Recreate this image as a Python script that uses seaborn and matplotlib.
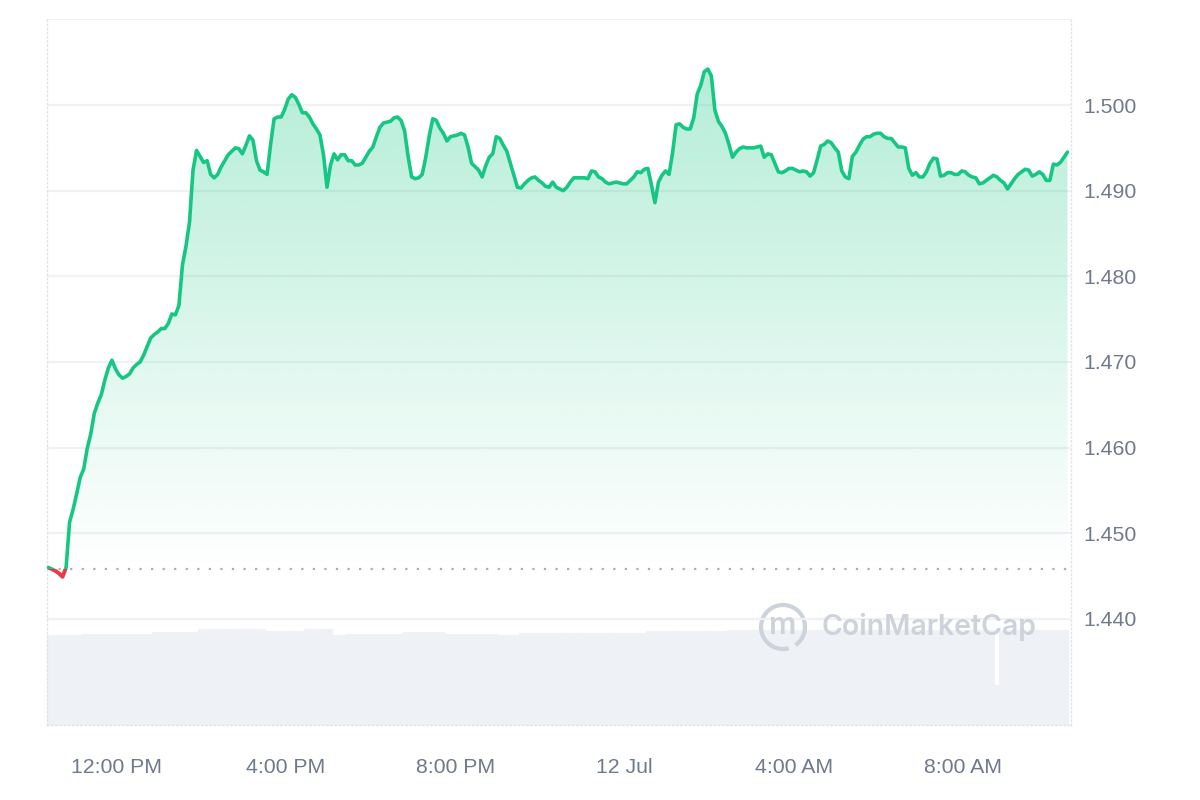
import numpy as np
import pandas as pd
import seaborn as sns
import matplotlib.pyplot as plt
import matplotlib.dates as mdates
from matplotlib.patches import Rectangle, Arc

# -------------------------------
# Data (5-minute candles, 11 Jul 10:23 -> 12 Jul 10:28)
# -------------------------------
start_time = "2024-07-11 10:23"
open_price = 1.4458

price = [
    1.4460, 1.4458, 1.4456, 1.4453, 1.4449, 1.4460, 1.4513, 1.4528, 1.4546, 1.4565,
    1.4575, 1.4599, 1.4616, 1.4640, 1.4652, 1.4662, 1.4679, 1.4693, 1.4702, 1.4692,
    1.4685, 1.4681, 1.4683, 1.4686, 1.4693, 1.4697, 1.4700, 1.4708, 1.4718, 1.4728,
    1.4732, 1.4735, 1.4739, 1.4739, 1.4745, 1.4756, 1.4755, 1.4766, 1.4813, 1.4835,
    1.4863, 1.4924, 1.4947, 1.4940, 1.4933, 1.4935, 1.4919, 1.4915, 1.4919, 1.4928,
    1.4935, 1.4942, 1.4946, 1.4950, 1.4949, 1.4943, 1.4953, 1.4964, 1.4959, 1.4935,
    1.4924, 1.4922, 1.4919, 1.4954, 1.4984, 1.4986, 1.4986, 1.4995, 1.5007, 1.5012,
    1.5009, 1.5001, 1.4991, 1.4991, 1.4986, 1.4978, 1.4972, 1.4965, 1.4942, 1.4904,
    1.4930, 1.4943, 1.4936, 1.4942, 1.4942, 1.4935, 1.4935, 1.4930, 1.4930, 1.4932,
    1.4939, 1.4946, 1.4951, 1.4963, 1.4974, 1.4979, 1.4980, 1.4981, 1.4985, 1.4986,
    1.4982, 1.4970, 1.4940, 1.4916, 1.4914, 1.4915, 1.4919, 1.4939, 1.4964, 1.4984,
    1.4982, 1.4973, 1.4967, 1.4958, 1.4963, 1.4964, 1.4965, 1.4967, 1.4965, 1.4951,
    1.4932, 1.4928, 1.4924, 1.4916, 1.4929, 1.4939, 1.4943, 1.4963, 1.4961, 1.4953,
    1.4946, 1.4932, 1.4918, 1.4904, 1.4903, 1.4908, 1.4912, 1.4915, 1.4916, 1.4912,
    1.4909, 1.4905, 1.4904, 1.4910, 1.4904, 1.4902, 1.4900, 1.4904, 1.4910, 1.4915,
    1.4915, 1.4915, 1.4915, 1.4914, 1.4923, 1.4922, 1.4916, 1.4914, 1.4910, 1.4908,
    1.4909, 1.4910, 1.4909, 1.4908, 1.4908, 1.4912, 1.4916, 1.4922, 1.4921, 1.4925,
    1.4926, 1.4907, 1.4886, 1.4910, 1.4918, 1.4923, 1.4919, 1.4944, 1.4977, 1.4978,
    1.4974, 1.4972, 1.4972, 1.4985, 1.5013, 1.5023, 1.5039, 1.5042, 1.5034, 1.4994,
    1.4981, 1.4975, 1.4967, 1.4954, 1.4939, 1.4945, 1.4949, 1.4951, 1.4950, 1.4950,
    1.4950, 1.4951, 1.4952, 1.4939, 1.4943, 1.4942, 1.4932, 1.4922, 1.4921, 1.4923,
    1.4926, 1.4926, 1.4924, 1.4922, 1.4923, 1.4922, 1.4917, 1.4921, 1.4936, 1.4952,
    1.4954, 1.4958, 1.4956, 1.4950, 1.4945, 1.4923, 1.4916, 1.4914, 1.4940, 1.4945,
    1.4953, 1.4960, 1.4963, 1.4963, 1.4966, 1.4967, 1.4967, 1.4963, 1.4961, 1.4961,
    1.4956, 1.4951, 1.4951, 1.4950, 1.4926, 1.4918, 1.4921, 1.4916, 1.4916, 1.4922,
    1.4932, 1.4938, 1.4937, 1.4917, 1.4918, 1.4921, 1.4921, 1.4919, 1.4919, 1.4923,
    1.4922, 1.4918, 1.4916, 1.4915, 1.4908, 1.4909, 1.4912, 1.4915, 1.4918, 1.4916,
    1.4912, 1.4909, 1.4902, 1.4908, 1.4914, 1.4919, 1.4922, 1.4925, 1.4924, 1.4917,
    1.4919, 1.4922, 1.4919, 1.4912, 1.4912, 1.4931, 1.4930, 1.4933, 1.4939, 1.4945,
]

# volume in millions (no scale shown on the chart)
volume = [
    9.05, 9.05, 9.05, 9.05, 9.05, 9.05, 9.05, 9.05, 9.05, 9.05,
    9.15, 9.15, 9.15, 9.15, 9.15, 9.15, 9.15, 9.15, 9.15, 9.15,
    9.15, 9.15, 9.15, 9.15, 9.15, 9.15, 9.15, 9.15, 9.15, 9.15,
    9.3, 9.3, 9.3, 9.3, 9.3, 9.3, 9.3, 9.3, 9.3, 9.3,
    9.3, 9.3, 9.3, 9.6, 9.6, 9.6, 9.6, 9.6, 9.6, 9.6,
    9.6, 9.6, 9.6, 9.6, 9.6, 9.6, 9.6, 9.6, 9.6, 9.6,
    9.6, 9.6, 9.4, 9.4, 9.4, 9.4, 9.4, 9.4, 9.4, 9.4,
    9.4, 9.4, 9.4, 9.6, 9.6, 9.6, 9.6, 9.6, 9.6, 9.6,
    9.6, 9.05, 9.05, 9.05, 9.05, 9.15, 9.15, 9.15, 9.15, 9.15,
    9.15, 9.15, 9.15, 9.15, 9.15, 9.15, 9.15, 9.15, 9.15, 9.15,
    9.15, 9.3, 9.3, 9.3, 9.3, 9.3, 9.3, 9.3, 9.3, 9.3,
    9.3, 9.3, 9.3, 9.15, 9.15, 9.15, 9.15, 9.15, 9.15, 9.15,
    9.15, 9.15, 9.15, 9.15, 9.15, 9.15, 9.15, 9.15, 9.0, 9.0,
    9.0, 9.0, 9.0, 9.0, 9.2, 9.2, 9.2, 9.2, 9.2, 9.2,
    9.2, 9.2, 9.2, 9.2, 9.2, 9.2, 9.2, 9.2, 9.2, 9.2,
    9.2, 9.2, 9.2, 9.2, 9.2, 9.2, 9.2, 9.2, 9.2, 9.2,
    9.2, 9.2, 9.2, 9.2, 9.2, 9.2, 9.2, 9.2, 9.2, 9.2,
    9.4, 9.4, 9.4, 9.4, 9.4, 9.4, 9.4, 9.4, 9.4, 9.4,
    9.4, 9.4, 9.4, 9.4, 9.4, 9.4, 9.4, 9.4, 9.4, 9.4,
    9.4, 9.4, 9.4, 9.55, 9.55, 9.55, 9.55, 9.55, 9.55, 9.55,
    9.55, 9.55, 9.55, 9.55, 9.55, 9.55, 9.55, 9.55, 9.55, 9.55,
    9.55, 9.55, 9.55, 9.55, 9.55, 9.55, 9.55, 9.55, 9.55, 9.55,
    9.55, 9.55, 9.55, 9.55, 9.55, 9.55, 9.55, 9.55, 9.55, 9.55,
    9.55, 9.55, 9.55, 9.55, 9.55, 9.55, 9.55, 9.55, 9.55, 9.55,
    9.55, 9.55, 9.55, 9.55, 9.55, 9.55, 9.55, 9.55, 9.55, 9.55,
    9.55, 9.55, 9.55, 9.55, 9.55, 9.55, 9.55, 9.55, 9.55, 9.55,
    9.55, 9.55, 9.55, 9.55, 9.55, 9.55, 9.55, 9.55, 9.55, 4.0,
    9.55, 9.55, 9.55, 9.55, 9.55, 9.55, 9.55, 9.55, 9.55, 9.55,
    9.55, 9.55, 9.55, 9.55, 9.55, 9.55, 9.55, 9.55, 9.55, 9.55,
]

y_ticks = [1.440, 1.450, 1.460, 1.470, 1.480, 1.490, 1.500, 1.510]
x_ticks = ["2024-07-11 12:00", "2024-07-11 16:00", "2024-07-11 20:00",
           "2024-07-12 00:00", "2024-07-12 04:00", "2024-07-12 08:00"]
x_labels = ["12:00 PM", "4:00 PM", "8:00 PM", "12 Jul", "4:00 AM", "8:00 AM"]

df = pd.DataFrame({
    "time": pd.date_range(start_time, periods=len(price), freq="5min"),
    "price": price,
    "volume": volume,
})

# -------------------------------
# Style
# -------------------------------
GREEN = "#16c784"
RED = "#ea3943"
GRID = "#eff2f5"
LABEL = "#6f7a8d"

sns.set_style("white")
plt.rcParams["font.family"] = ["Liberation Sans", "DejaVu Sans"]

fig = plt.figure(figsize=(12, 8), dpi=100)
ax = fig.add_axes([0.0392, 0.09375, 0.8533, 0.8820])
ax_vol = ax.twinx()
ax.set_zorder(ax_vol.get_zorder() + 1)
ax.patch.set_visible(False)

t0 = mdates.date2num(df["time"].iloc[0])
x_min = t0 - 2 / 1440
x_max = t0 + 1450 / 1440
y_min, y_max = 1.4276, 1.510

# -------------------------------
# Volume bars
# -------------------------------
ax_vol.bar(df["time"], df["volume"], width=5.6 / 1440, color="#eef1f5",
           edgecolor="#f7f8fa", linewidth=0.2, align="center")
ax_vol.set_ylim(0, 70.6)
ax_vol.set_yticks([])
for s in ax_vol.spines.values():
    s.set_visible(False)

# -------------------------------
# Gradient fill under the price line
# -------------------------------
fill = ax.fill_between(df["time"], df["price"], open_price, color="none", lw=0)
rgba = np.zeros((256, 1, 4))
rgba[..., :3] = np.array([22, 199, 132]) / 255
rgba[:, 0, 3] = np.linspace(0.0, 0.32, 256)
grad = ax.imshow(rgba, extent=[x_min, x_max, open_price, max(price)],
                 origin="lower", aspect="auto", zorder=1, interpolation="bilinear")
grad.set_clip_path(fill.get_paths()[0], transform=ax.transData)

# baseline (open price)
ax.axhline(open_price, color="#a6adbd", lw=1.6, ls=(0, (1, 4.2)), zorder=2)

# -------------------------------
# Price line: green above open, red below
# -------------------------------
sns.lineplot(data=df, x="time", y="price", color=GREEN, lw=2.6, ax=ax, zorder=3)
green_line = ax.lines[-1]
sns.lineplot(data=df, x="time", y="price", color=RED, lw=2.8, ax=ax, zorder=3)
red_line = ax.lines[-1]
for ln in (green_line, red_line):
    ln.set_solid_capstyle("round")
    ln.set_solid_joinstyle("round")

above = Rectangle((x_min - 1, open_price), 5, 1, transform=ax.transData)
below = Rectangle((x_min - 1, open_price - 1), 5, 1, transform=ax.transData)
green_line.set_clip_path(above)
red_line.set_clip_path(below)

# -------------------------------
# Axes
# -------------------------------
ax.set_xlim(x_min, x_max)
ax.set_ylim(y_min, y_max)
ax.set_xlabel("")
ax.set_ylabel("")

ax.set_yticks(y_ticks)
ax.set_yticklabels([f"{v:.3f}" for v in y_ticks[:-1]] + [""])
ax.yaxis.tick_right()
ax.set_xticks(mdates.date2num(pd.to_datetime(x_ticks)))
ax.set_xticklabels(x_labels)

ax.tick_params(axis="y", length=0, pad=9, labelsize=15.3, labelcolor=LABEL)
ax.tick_params(axis="x", length=0, pad=24, labelsize=15.3, labelcolor=LABEL)

ax.yaxis.grid(True, color=GRID, lw=1.6)
ax.xaxis.grid(False)
ax.spines["top"].set_visible(False)
for side in ["left", "right", "bottom"]:
    ax.spines[side].set_linestyle((0, (1, 2)))
    ax.spines[side].set_color("#dfe3e9")
    ax.spines[side].set_linewidth(1.0)

# -------------------------------
# Watermark
# -------------------------------
WM = "#cdd2db"
logo = Arc((7.83, 1.73), 0.44, 0.44, theta1=-55, theta2=285, lw=3.0, color=WM,
           transform=fig.dpi_scale_trans)
fig.add_artist(logo)
fig.text(0.6525, 0.217, "m", fontsize=22, fontweight="semibold", color=WM,
         ha="center", va="center", family=["Inter", "DejaVu Sans"])
fig.text(0.685, 0.216, "CoinMarketCap", fontsize=20.5, fontweight="semibold",
         color=WM, ha="left", va="center", family=["Inter", "DejaVu Sans"])

fig.savefig("out.png", dpi=100)
